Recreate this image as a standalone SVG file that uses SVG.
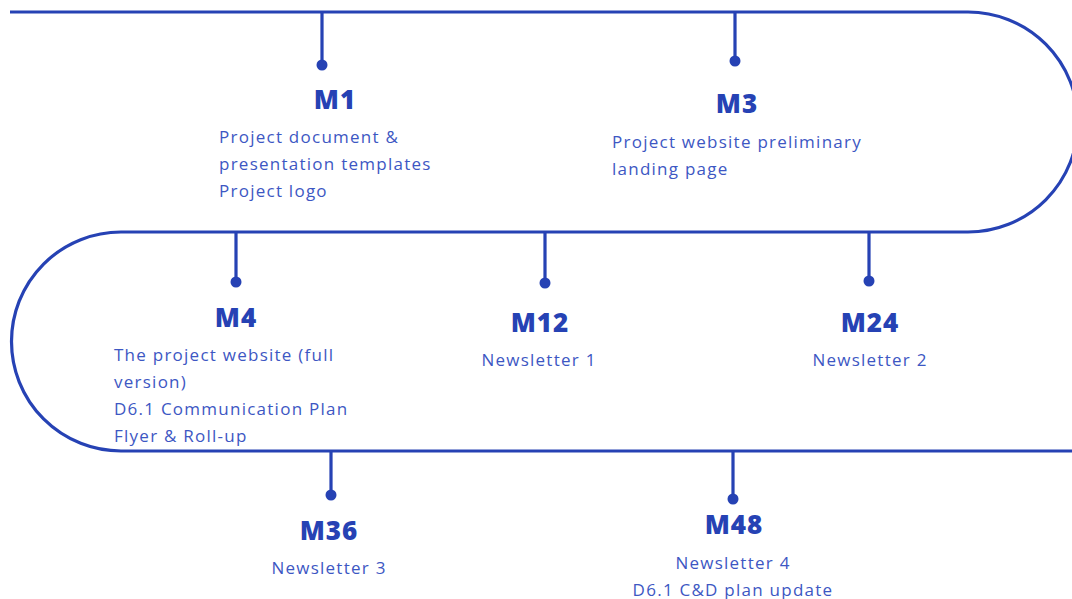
<svg xmlns="http://www.w3.org/2000/svg" width="1072" height="599" viewBox="0 0 1072 599">
<style>
.ln{fill:none;stroke:#2642b4;stroke-width:3.2;stroke-linecap:butt}
.dot{fill:#2642b4}
.t{font-family:"Open Sans","Liberation Sans",sans-serif;font-weight:800;font-size:26px;fill:#2642b4;text-anchor:middle;letter-spacing:1px}
.b{font-family:"Open Sans","Liberation Sans",sans-serif;font-size:17px;fill:#3d57c3;letter-spacing:1.25px}
.c{text-anchor:middle}
</style>
<rect width="1072" height="599" fill="#ffffff"/>
<g id="connectors">
<path class="ln" d="M10 12 H968 A110 110 0 0 1 968 232 H121 A109.5 109.5 0 0 0 121 451 H1072"/>
<path class="ln" d="M322 12 V65 M735 12 V61 M236 232 V282 M545 232 V283 M869 232 V281 M331 451 V495 M733 451 V499"/>
</g>
<g id="m1">
<circle class="dot" cx="322" cy="65" r="5.5"/>
<text class="t" x="335" y="109">M1</text>
<text class="b" x="219" y="143">Project document &amp;</text>
<text class="b" x="219" y="170">presentation templates</text>
<text class="b" x="219" y="197">Project logo</text>
</g>
<g id="m3">
<circle class="dot" cx="735" cy="61" r="5.5"/>
<text class="t" x="737" y="113">M3</text>
<text class="b" x="612" y="148">Project website preliminary</text>
<text class="b" x="612" y="175">landing page</text>
</g>
<g id="m4">
<circle class="dot" cx="236" cy="282" r="5.5"/>
<text class="t" x="236" y="327">M4</text>
<text class="b" x="114" y="361">The project website (full</text>
<text class="b" x="114" y="388">version)</text>
<text class="b" x="114" y="415">D6.1 Communication Plan</text>
<text class="b" x="114" y="442">Flyer &amp; Roll-up</text>
</g>
<g id="m12">
<circle class="dot" cx="545" cy="283" r="5.5"/>
<text class="t" x="540" y="332">M12</text>
<text class="b c" x="539" y="366">Newsletter 1</text>
</g>
<g id="m24">
<circle class="dot" cx="869" cy="281" r="5.5"/>
<text class="t" x="870" y="332">M24</text>
<text class="b c" x="870" y="366">Newsletter 2</text>
</g>
<g id="m36">
<circle class="dot" cx="331" cy="495" r="5.5"/>
<text class="t" x="329" y="540">M36</text>
<text class="b c" x="329" y="574">Newsletter 3</text>
</g>
<g id="m48">
<circle class="dot" cx="733" cy="499" r="5.5"/>
<text class="t" x="734" y="534">M48</text>
<text class="b c" x="733" y="569">Newsletter 4</text>
<text class="b c" x="733" y="596">D6.1 C&amp;D plan update</text>
</g>
</svg>
